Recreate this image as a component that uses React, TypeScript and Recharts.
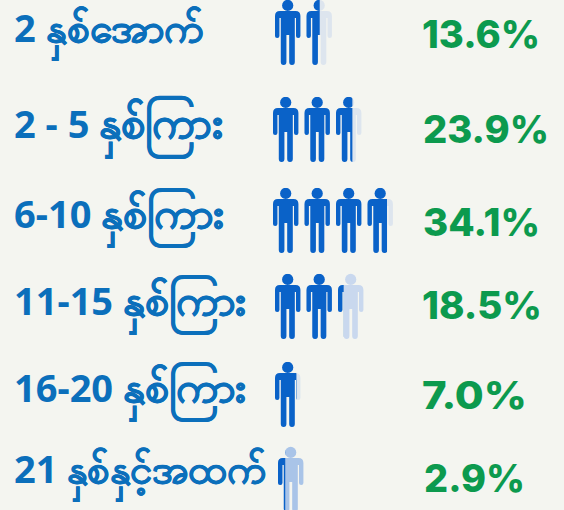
import { Bar, BarChart, LabelList, XAxis, YAxis } from 'recharts';

// Years-of-service groups, as printed
const rowLabels = ['2 နှစ်အောက်', '2 - 5 နှစ်ကြား', '6-10 နှစ်ကြား', '11-15 နှစ်ကြား', '16-20 နှစ်ကြား', '21 နှစ်နှင့်အထက်'];
const percentLabels = ['13.6%', '23.9%', '34.1%', '18.5%', '7.0%', '2.9%'];
// how many figures are coloured in
const filledFigures = [1.42, 2.52, 3.62, 2.18, 0.68, 0.23];
const totalFigures = [2, 3, 4, 3, 1, 1];

const FIGURE_PITCH = 31.5;
const ROW_HEIGHT = 66;
const PAD = 20; // room round each row so tall glyphs are not clipped
const BLUE = '#0a62c8';
const TEXT_BLUE = '#0b6fbb';
const PALE = ['#dde5ee', '#dde5ee', '#dde5ee', '#c9d8ee', '#dde5ee', '#a9c4e8'];

// the rows in the picture are not evenly spaced
const ROWS = [
  { top: 0, left: 275, labelBase: 42, pctX: 422, pctBase: 48, pctWidth: 118, burmese: 40.5 },
  { top: 97, left: 273, labelBase: 41, pctX: 423, pctBase: 46, pctWidth: 126, burmese: 43.5 },
  { top: 188, left: 273, labelBase: 40, pctX: 423, pctBase: 48, pctWidth: 117, burmese: 43 },
  { top: 274, left: 275, labelBase: 41, pctX: 422, pctBase: 45, pctWidth: 120, burmese: 43 },
  { top: 362, left: 275, labelBase: 40, pctX: 422, pctBase: 47, pctWidth: 105, burmese: 43 },
  { top: 447, left: 278, labelBase: 36, pctX: 424, pctBase: 45, pctWidth: 101, burmese: 40 },
];

const Figure = ({ x, y, fill }: { x: number; y: number; fill: string }) => (
  <g transform={`translate(${x},${y})`} fill={fill}>
    <circle cx={12.7} cy={5.4} r={5.6} />
    <path d="M5 11 H20.4 Q25.4 11 25.4 16 V36 Q25.4 38 23.2 38 Q21 38 21 36 V18 H19.8 V62 Q19.8 65 17 65 Q14.2 65 14.2 62 V35 H11.4 V62 Q11.4 65 8.6 65 Q5.8 65 5.8 62 V18 H4.4 V36 Q4.4 38 2.2 38 Q0 38 0 36 V16 Q0 11 5 11 Z" />
  </g>
);

const FigureBar = (props: any) => {
  const { x, y, width, payload } = props;
  const clipId = `fill-${payload.row}`;
  const figures = Array.from({ length: payload.total }, (_, i) => i);
  return (
    <g style={{ filter: 'blur(0.5px)' }}>
      <clipPath id={clipId}>
        <rect x={x} y={y} width={width} height={ROW_HEIGHT} />
      </clipPath>
      {figures.map((i) => (
        <Figure key={i} x={x + i * FIGURE_PITCH} y={y} fill={PALE[payload.row]} />
      ))}
      <g clipPath={`url(#${clipId})`}>
        {figures.map((i) => (
          <Figure key={i} x={x + i * FIGURE_PITCH} y={y} fill={BLUE} />
        ))}
      </g>
    </g>
  );
};

// the figures and the Burmese script are set larger than the number in front
const splitLabel = (label: string) => {
  const at = label.search(/[\u1000-\u109f]/);
  return [label.slice(0, at), label.slice(at)];
};

const Row = ({ row }: { row: number }) => {
  const layout = ROWS[row];
  const data = [
    {
      row,
      label: rowLabels[row],
      percent: percentLabels[row],
      filled: filledFigures[row],
      total: totalFigures[row],
    },
  ];
  const chartHeight = ROW_HEIGHT + PAD * 2;
  return (
    <div style={{ position: 'absolute', left: 0, top: layout.top - PAD, width: 564, height: chartHeight }}>
      <BarChart
        width={564}
        height={chartHeight}
        data={data}
        layout="vertical"
        margin={{ top: PAD, right: 0, bottom: PAD, left: 0 }}
        barCategoryGap={0}
      >
        <XAxis type="number" hide domain={[0, (564 - layout.left) / FIGURE_PITCH]} />
        <YAxis
          type="category"
          dataKey="label"
          width={layout.left}
          axisLine={false}
          tickLine={false}
          interval={0}
          tick={(p: any) => {
            const [number, word] = splitLabel(p.payload.value);
            return (
              <text
                x={14}
                y={PAD + layout.labelBase}
                textAnchor="start"
                fill={TEXT_BLUE}
                fontFamily="'Noto Sans', sans-serif"
                fontWeight={700}
                fontSize={38}
                style={{ whiteSpace: 'pre' }}
              >
                <tspan>{number}</tspan>
                <tspan fontSize={layout.burmese} stroke={TEXT_BLUE} strokeWidth={0.5}>
                  {word}
                </tspan>
              </text>
            );
          }}
        />
        <Bar dataKey="filled" isAnimationActive={false} shape={<FigureBar />}>
          <LabelList
            dataKey="percent"
            content={(p: any) => (
              <text
                x={layout.pctX}
                y={PAD + layout.pctBase}
                textAnchor="start"
                fill="#0c9a4e"
                fontFamily="Inter, sans-serif"
                fontWeight={800}
                fontSize={38}
                textLength={layout.pctWidth}
                lengthAdjust="spacingAndGlyphs"
              >
                {p.value}
              </text>
            )}
          />
        </Bar>
      </BarChart>
    </div>
  );
};

export default function App() {
  return (
    <div
      style={{
        position: 'absolute',
        left: 0,
        top: 0,
        width: 564,
        height: 510,
        overflow: 'hidden',
        background: '#f4f5f0',
      }}
    >
      {rowLabels.map((_, i) => (
        <Row key={i} row={i} />
      ))}
    </div>
  );
}
